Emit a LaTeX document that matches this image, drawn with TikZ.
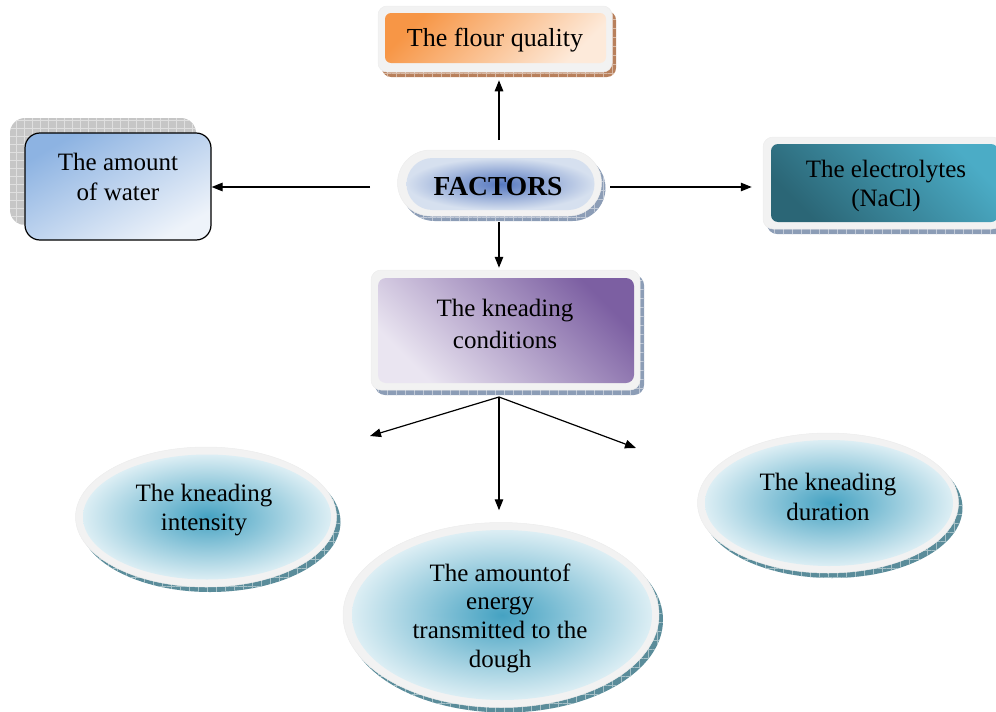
\documentclass[tikz,border=0pt]{standalone}
\usepackage{fontspec}
\setmainfont{Liberation Serif}
\usetikzlibrary{shapes.geometric,shapes.misc,patterns.meta,arrows.meta}

\definecolor{framegray}{HTML}{F2F2F2}
\definecolor{flourA}{HTML}{F79646}
\definecolor{flourB}{HTML}{FDEADA}
\definecolor{flourshadow}{HTML}{B8805C}
\definecolor{waterA}{HTML}{8DB3E2}
\definecolor{waterB}{HTML}{EEF3FA}
\definecolor{factA}{HTML}{5678C0}
\definecolor{factB}{HTML}{D6E0EF}
\definecolor{elecA}{HTML}{4BACC6}
\definecolor{elecB}{HTML}{2B6676}
\definecolor{condA}{HTML}{7C5FA2}
\definecolor{condB}{HTML}{EAE5F1}
\definecolor{ellA}{HTML}{45A2C2}
\definecolor{ellB}{HTML}{DCEEF4}
\definecolor{boxshadow}{HTML}{8C9DB6}
\definecolor{ellshadow}{HTML}{5A8C9A}

\newcommand{\boxfont}{\fontsize{25}{29.5}\selectfont}

\tikzset{
  frame/.style={fill=framegray, draw=black!7, line width=0.5pt, inner sep=0pt},
  plain/.style={inner sep=0pt},
  sdw/.style={preaction={fill=#1, transform canvas={shift={(4pt,-5pt)}}},
    preaction={pattern={Hatch[angle=0,distance=9pt,line width=0.3pt]},
      pattern color=white!45!#1, transform canvas={shift={(4pt,-5pt)}}}},
  txt/.style={align=center, font=\boxfont, inner sep=0pt},
  link/.style={line width=1.2pt, -{Triangle[length=11pt,width=8.5pt]}},
}

\begin{document}
\begin{tikzpicture}[x=1pt,y=-1pt]
\useasboundingbox (0,0) rectangle (996,712);

% upper boxes
\node[frame, sdw=flourshadow, rounded corners=9pt, minimum width=234pt, minimum height=66pt] (flour) at (495,39) {};
\node[plain, top color=flourA, bottom color=flourB, shading angle=45, rounded corners=6pt, minimum width=221pt, minimum height=50pt] (flour-in) at (495.5,38) {};
\node[txt, font=\fontsize{26}{30}\selectfont] (flour-txt) at (495,40) {The flour quality};

\node[plain, draw=black, line width=1.2pt, rounded corners=15pt, top color=waterA, bottom color=waterB, shading angle=30,
  minimum width=186pt, minimum height=107pt,
  preaction={fill=gray!45, transform canvas={shift={(-15pt,15pt)}}},
  preaction={pattern={Hatch[angle=0,distance=8pt,line width=0.4pt]}, pattern color=gray!25, transform canvas={shift={(-15pt,15pt)}}}] (water) at (118,186.5) {};
\node[txt] (water-txt) at (118,177) {The amount\\of water};

\node[frame, rounded rectangle, sdw=boxshadow, minimum width=204pt, minimum height=66pt] (factors) at (499.5,183) {};
\node[plain, rounded rectangle, inner color=factA, outer color=factB, minimum width=188pt, minimum height=52pt] (factors-in) at (500.5,184) {};
\node[txt, font=\fontsize{27.5}{30}\selectfont\bfseries] (factors-txt) at (498,187) {FACTORS};

\node[frame, sdw=boxshadow, rounded corners=10pt, minimum width=239pt, minimum height=92pt] (elec) at (882.5,183) {};
\node[plain, top color=elecA, bottom color=elecB, shading angle=-45, rounded corners=7pt, minimum width=227pt, minimum height=78pt] (elec-in) at (884.5,183) {};
\node[txt] (elec-txt) at (886,186) {The electrolytes\\(NaCl)};

\node[frame, sdw=boxshadow, rounded corners=10pt, minimum width=269pt, minimum height=120pt] (cond) at (505.5,330) {};
\node[plain, top color=condA, bottom color=condB, shading angle=-45, rounded corners=8pt, minimum width=256pt, minimum height=105pt] (cond-in) at (506,330.5) {};
\node[txt, font=\fontsize{25}{32}\selectfont] (cond-txt) at (505,324) {The kneading\\conditions};

% ellipses
\node[frame, ellipse, sdw=ellshadow, minimum width=261pt, minimum height=140pt] (int) at (206,517) {};
\node[plain, ellipse, inner color=ellA, outer color=ellB, minimum width=248pt, minimum height=125pt] (int-in) at (207,517) {};
\node[txt] (int-txt) at (204,510) {The kneading\\intensity};

\node[frame, ellipse, sdw=ellshadow, minimum width=316pt, minimum height=185pt] (energy) at (501,615) {};
\node[plain, ellipse, inner color=ellA, outer color=ellB, minimum width=300pt, minimum height=170pt] (energy-in) at (502,615) {};
\node[txt, font=\fontsize{25}{28.7}\selectfont] (energy-txt) at (500,618) {The amountof\\energy\\transmitted to the\\dough};

\node[frame, ellipse, sdw=ellshadow, minimum width=261pt, minimum height=140pt] (dur) at (828,503) {};
\node[plain, ellipse, inner color=ellA, outer color=ellB, minimum width=248pt, minimum height=126pt] (dur-in) at (829,503) {};
\node[txt] (dur-txt) at (828,497) {The kneading\\duration};

% arrows
\coordinate (hub) at (499,187);
\draw[link, shorten <=47pt, shorten >=8pt] (hub) -- (hub |- flour.south);
\draw[link, shorten <=129pt] (hub) -- (hub -| water.east);
\draw[link, shorten <=111pt, shorten >=11pt] (hub) -- (hub -| elec.west);
\draw[link, shorten <=35pt, shorten >=2pt] (hub) -- (hub |- cond.north);

\coordinate (split) at (499,397);
\coordinate (to-int) at (370,436);
\coordinate (to-dur) at (636,448);
\draw[link] (split) -- (to-int);
\draw[link, shorten >=12pt] (split) -- (split |- energy.north);
\draw[link] (split) -- (to-dur);
\end{tikzpicture}
\end{document}
